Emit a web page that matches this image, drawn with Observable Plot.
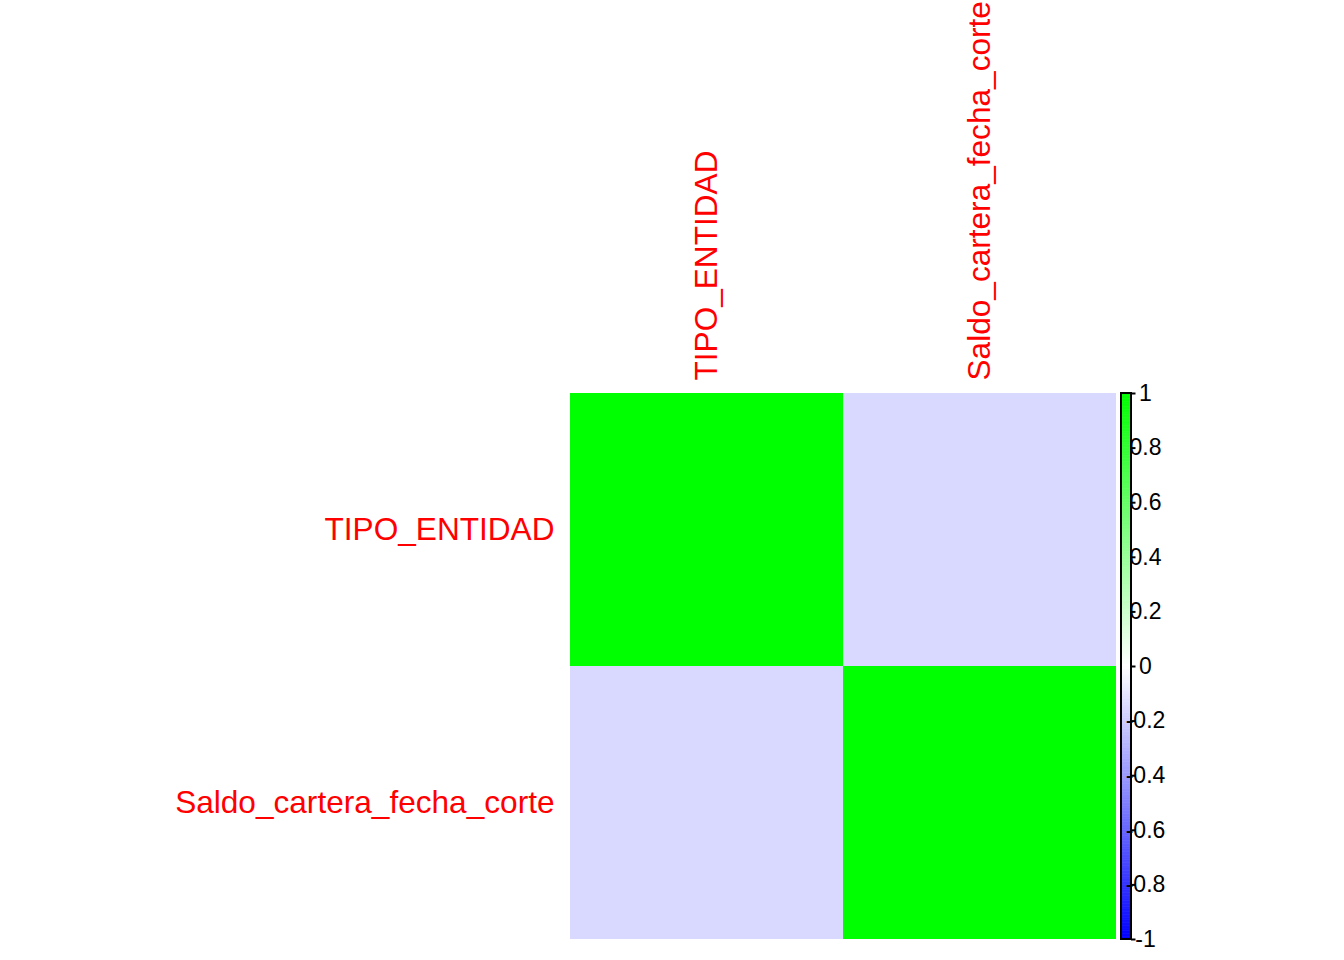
<!DOCTYPE html>
<html>
<head>
<meta charset="utf-8">
<script src="https://cdn.jsdelivr.net/npm/d3@7"></script>
<script src="https://cdn.jsdelivr.net/npm/@observablehq/plot@0.6"></script>
<style>
  html, body { margin: 0; padding: 0; background: #fff; }
  #wrap { position: relative; width: 1344px; height: 960px; overflow: hidden; }
  #wrap svg { position: absolute; left: 0; top: 0; }
</style>
</head>
<body>
<div id="wrap"></div>
<script>
// Variables of the correlation matrix
const variables = ["TIPO_ENTIDAD", "Saldo_cartera_fecha_corte"];
// Correlation values (row-major)
const corrValues = [
  [1, -0.15],
  [-0.15, 1]
];
// Colorbar tick values and labels
const barTicks = [-1, -0.8, -0.6, -0.4, -0.2, 0, 0.2, 0.4, 0.6, 0.8, 1];
const barLabels = ["-1", "-0.8", "-0.6", "-0.4", "-0.2", "0", "0.2", "0.4", "0.6", "0.8", "1"];

const cells = [];
variables.forEach((r, i) => variables.forEach((c, j) => cells.push({row: r, col: c, value: corrValues[i][j]})));

const colorOpts = {type: "linear", domain: [-1, 0, 1], range: ["#0000FF", "#FFFFFF", "#00FF00"], interpolate: "rgb"};
const font = "'Liberation Sans', Arial, sans-serif";

const main = Plot.plot({
  width: 1344,
  height: 960,
  marginLeft: 570,
  marginRight: 228,
  marginTop: 392,
  marginBottom: 21,
  style: {fontFamily: font, background: "transparent"},
  x: {domain: variables, padding: 0, axis: null},
  y: {domain: variables, padding: 0, axis: null},
  color: colorOpts,
  marks: [
    Plot.cell(cells, {x: "col", y: "row", fill: "value"}),
    Plot.axisY({anchor: "left", tickSize: 0, tickPadding: 16, fontSize: 31.6, fill: "#FF0000", label: null}),
    Plot.axisX({anchor: "top", tickSize: 0, tickPadding: 12, tickRotate: -90, fontSize: 31.6, fill: "#FF0000", label: null})
  ]
});

// Colorbar
const step = 0.01;
const ramp = d3.range(-1, 1, step).map(v => ({v0: v, v1: v + step, mid: v + step / 2}));
const bar = Plot.plot({
  width: 1344,
  height: 960,
  marginLeft: 1121,
  marginRight: 213,
  marginTop: 393,
  marginBottom: 21,
  style: {fontFamily: font, background: "transparent"},
  x: {domain: [0, 1], axis: null},
  y: {domain: [-1, 1], axis: null},
  color: colorOpts,
  marks: [
    Plot.rectY(ramp, {x1: 0, x2: 1, y1: "v0", y2: "v1", fill: "mid", stroke: "mid", strokeWidth: 0.6, inset: 0}),
    Plot.rect([0], {x1: 0, x2: 1, y1: -1, y2: 1, fill: "none", stroke: "black", strokeWidth: 2}),
    Plot.ruleY(barTicks, {x1: 1, x2: 1.45, stroke: "black", strokeWidth: 2}),
    Plot.text(barTicks, {x: 2.4, y: d => d, text: (d, i) => barLabels[i], fontSize: 23, fill: "black", textAnchor: "middle"})
  ]
});

const wrap = document.getElementById("wrap");
wrap.appendChild(main);
wrap.appendChild(bar);
</script>
</body>
</html>
